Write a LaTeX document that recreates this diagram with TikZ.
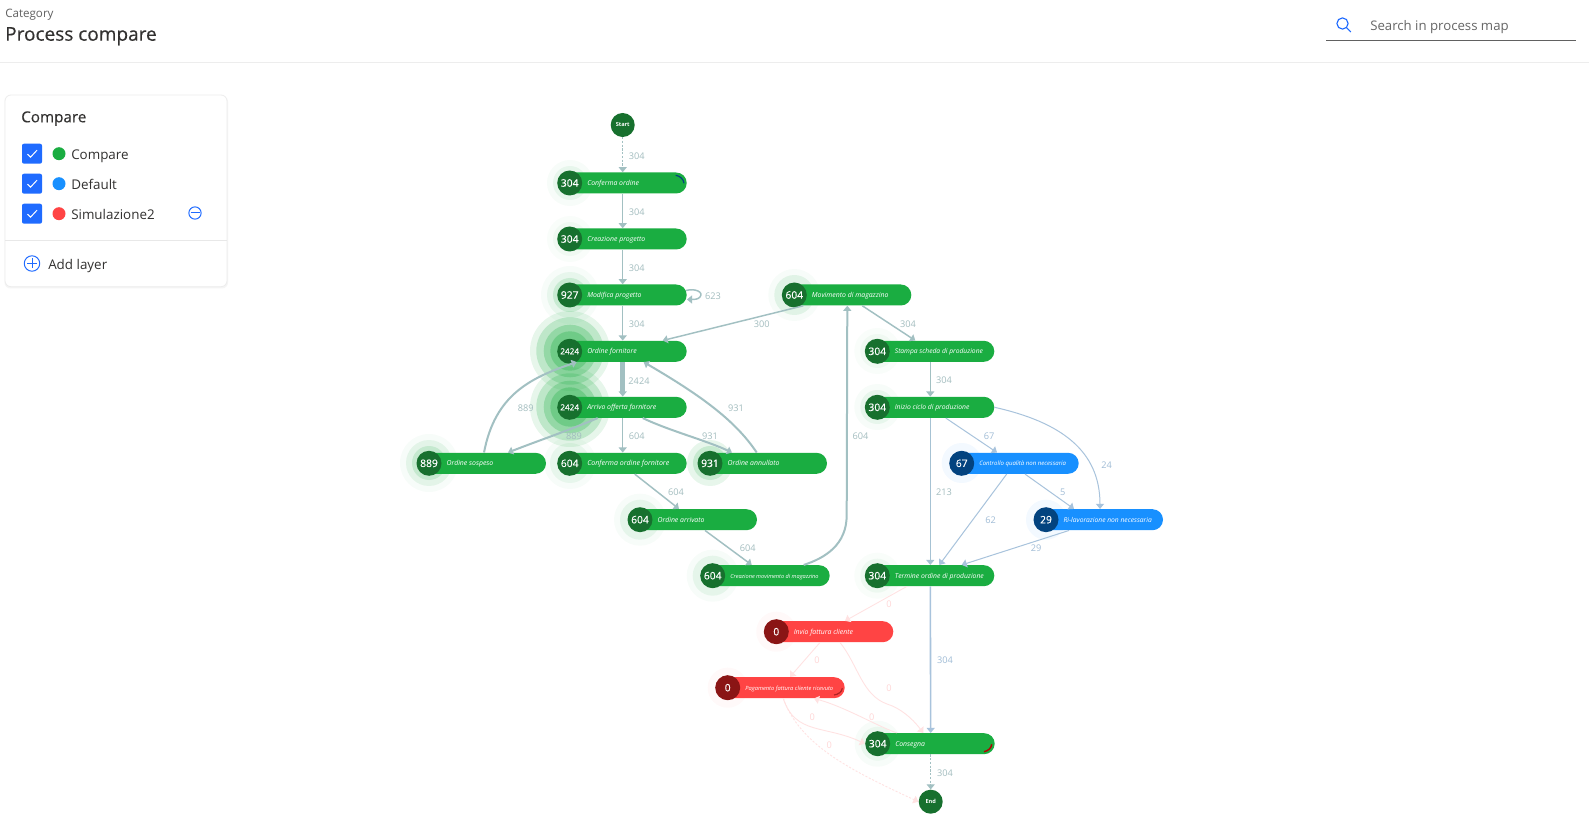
\documentclass[tikz,border=0pt]{standalone}
\usepackage{fontspec}
\setmainfont{Open Sans}
\newfontfamily\semifont[FakeBold=0.35]{Open Sans}
\usetikzlibrary{arrows.meta,calc,shapes.misc}
\definecolor{gpill}{HTML}{1AAD41}
\definecolor{gdark}{HTML}{17702E}
\definecolor{bpill}{HTML}{1890FF}
\definecolor{bdark}{HTML}{03437F}
\definecolor{rpill}{HTML}{FF4444}
\definecolor{rdark}{HTML}{8A1515}
\definecolor{tealedge}{HTML}{A2C0C2}
\definecolor{blueedge}{HTML}{A8C3DC}
\definecolor{pinkedge}{HTML}{FFE2E2}
\definecolor{teallab}{HTML}{A3BDBF}
\definecolor{bluelab}{HTML}{A0BCD6}
\definecolor{pinklab}{HTML}{FFD6D6}
\definecolor{uiblue}{HTML}{1F6BFF}
\definecolor{uitext}{HTML}{323130}
\newcommand\pxf[1]{\fontsize{\fpeval{#1*0.75}}{\fpeval{#1*0.9}}\selectfont}
\newcounter{elc}
\newcommand\elab[4][teallab]{\stepcounter{elc}\node[edgelabel,text=#1] (el\theelc) at ($(#2,#3)+(0,1)$) {#4};}
% name, cx, cy, count, text, text size, fill, dark
\newcommand\proc[8]{%
  \node[pill,fill=#7] (#1) at ($(#2,#3)+(53,0)$) {};
  \node[disc,fill=#8] (#1c) at (#2,#3) {\semifont\pxf{\ifnum#4>999 8.2\else 10.3\fi}#4};
  \node[plabel,font=\itshape\pxf{#6}] (#1t) at ($(#2,#3)+(17.3,2.5)$) {#5};
}
\tikzset{
  pill/.style={rounded rectangle,minimum width=96pt,minimum height=15.75pt,inner sep=0pt,draw=none},
  disc/.style={circle,minimum size=18.75pt,inner sep=0pt,text=white},
  endpoint/.style={circle,minimum size=18pt,inner sep=0pt,text=white,fill=gdark,font=\bfseries\pxf{5.6}},
  plabel/.style={anchor=base west,inner sep=0pt,text=white},
  edgelabel/.style={inner sep=0pt,font=\pxf{9.2}},
  tip/.style={-{Triangle[length=3.8pt,width=6pt]}},
  tedge/.style={tip,draw=tealedge,line width=1.1pt},
  tthin/.style={tip,draw=tealedge,line width=.8pt},
  tmid/.style={tip,draw=tealedge,line width=1.5pt},
  bedge/.style={tip,draw=blueedge,line width=.75pt},
  bthick/.style={tip,draw=blueedge,line width=1.2pt},
  pedge/.style={-{Triangle[length=3.8pt,width=6pt]},draw=pinkedge,line width=.65pt},
  dashline/.style={dash pattern=on 1.6pt off 1.2pt},
  chk/.style={rounded corners=1.5pt,fill=uiblue,draw=none},
  dot/.style={circle,minimum size=9.75pt,inner sep=0pt},
  uilabel/.style={anchor=base west,inner sep=0pt,text=uitext,font=\pxf{13.4}},
  uiicon/.style={draw=uiblue,line width=.75pt,fill=none},
}
\begin{document}
\begin{tikzpicture}[x=.75pt,y=-.75pt]
\useasboundingbox (0,0) rectangle (1589,827);
\fill[white] (0,0) rectangle (1589,827);

% ---- header
\node[anchor=base west,inner sep=0pt,text=black!62,font=\pxf{11.6}] (cat) at (5,17.3) {Category};
\node[anchor=base west,inner sep=0pt,text=uitext,font=\semifont\pxf{19}] (title) at (5,40.7) {Process compare};
\draw[black!7,line width=.8pt] (0,62.2) -- (1589,62.2);
\draw[uiblue,line width=.85pt] (1342.5,23.5) circle[radius=4.2pt];
\draw[uiblue,line width=.85pt] (1346.6,27.8) -- (1350.8,32);
\node[anchor=base west,inner sep=0pt,text=black!60,font=\pxf{13.2}] (search) at (1370,30.7) {Search in process map};
\draw[black!62,line width=.75pt] (1326,40.5) -- (1576,40.5);

% ---- legend panel
\fill[black!4,rounded corners=4.5pt] (4.5,96) rectangle (228,288.5);
\filldraw[draw=black!7,fill=white,line width=.6pt,rounded corners=4.5pt] (5,95) rectangle (227,286.7);
\draw[black!9,line width=.7pt] (5,240) -- (227,240);
\node[anchor=base west,inner sep=0pt,text=uitext,font=\semifont\pxf{15.2}] (lt) at (21,122.3) {Compare};
\foreach \yy/\cc/\lab/\nn in {153.7/gpill/Compare/a,183.7/bpill/Default/b,213.7/rpill/Simulazione2/c}{
  \fill[chk] (22,\yy-10) rectangle (42,\yy+10);
  \draw[white,line width=.75pt] (27.5,\yy+0.5) -- (30.5,\yy+3.5) -- (37,\yy-3.5);
  \node[dot,fill=\cc] (dot\nn) at (59,\yy) {};
  \node[uilabel] (txt\nn) at (71,\yy+5.6) {\lab};
}
\draw[uiicon] (195,213) circle[radius=4.6pt];
\draw[uiicon] (190.5,213) -- (199.5,213);
\draw[uiicon] (32,263.5) circle[radius=5.8pt];
\draw[uiicon] (27,263.5) -- (37,263.5) (32,258.5) -- (32,268.5);
\node[uilabel] (txtadd) at (48,269.3) {Add layer};

% ---- halos
\foreach \px/\py/\r/\o in {
  570/183/23/.03,570/183/17/.07,
  570/239/23/.025,570/239/17/.04,
  570/295/29/.03,570/295/23/.07,570/295/17/.15,
  570/351/40/.1,570/351/33.7/.2,570/351/26.3/.25,570/351/19.7/.3,
  570/407/40/.1,570/407/33.7/.2,570/407/26.3/.25,570/407/19.7/.3,
  429/463/29/.03,429/463/23/.09,429/463/17/.15,
  570/463/26/.03,570/463/20/.07,
  710/463/23/.1,710/463/17/.16,
  640/519.7/26/.03,640/519.7/20/.08,
  712.7/575.7/26/.03,712.7/575.7/20/.08,
  794.3/295/26/.03,794.3/295/20/.1,
  877.3/351/23/.025,877.3/351/17/.04,
  877.3/407/23/.03,877.3/407/17/.07,
  877.3/575.7/23/.025,877.3/575.7/17/.05,
  877.7/743.7/23/.03,877.7/743.7/17/.06}{
  \fill[gpill,opacity=\o] (\px,\py) circle[radius=\r*.75pt];
}
\foreach \px/\py/\r/\o in {961.7/463/20/.05,1046/519.7/20/.05}{
  \fill[bpill,opacity=\o] (\px,\py) circle[radius=\r*.75pt];
}
\foreach \px/\py/\r/\o in {776.3/631.7/20/.03,727.7/687.7/20/.03}{
  \fill[rpill,opacity=\o] (\px,\py) circle[radius=\r*.75pt];
}

% ---- nodes
\node[endpoint] (start) at (622.7,125) {Start};
\node[endpoint] (end) at (930.7,801.7) {End};
\proc{conf}{569.7}{183}{304}{Conferma ordine}{6.9}{gpill}{gdark}
\proc{crea}{569.7}{239}{304}{Creazione progetto}{6.9}{gpill}{gdark}
\proc{modp}{569.7}{295}{927}{Modifica progetto}{6.9}{gpill}{gdark}
\proc{ordf}{569.7}{351.3}{2424}{Ordine fornitore}{6.9}{gpill}{gdark}
\proc{arri}{569.7}{407.3}{2424}{Arrivo offerta fornitore}{6.9}{gpill}{gdark}
\proc{sosp}{429}{463.3}{889}{Ordine sospeso}{6.9}{gpill}{gdark}
\proc{cofo}{569.7}{463.3}{604}{Conferma ordine fornitore}{7.05}{gpill}{gdark}
\proc{annu}{710}{463.3}{931}{Ordine annullato}{6.9}{gpill}{gdark}
\proc{arrv}{640}{519.7}{604}{Ordine arrivato}{6.9}{gpill}{gdark}
\proc{crmo}{712.7}{575.7}{604}{Creazione movimento di magazzino}{5.6}{gpill}{gdark}
\proc{movi}{794.3}{295}{604}{Movimento di magazzino}{6.9}{gpill}{gdark}
\proc{stam}{877.3}{351.3}{304}{Stampa scheda di produzione}{6.7}{gpill}{gdark}
\proc{iniz}{877.3}{407.3}{304}{Inizio ciclo di produzione}{6.8}{gpill}{gdark}
\proc{cont}{961.7}{463.3}{67}{Controllo qualità non necessaria}{6.05}{bpill}{bdark}
\proc{rila}{1046}{519.7}{29}{Ri-lavorazione non necessaria}{6.7}{bpill}{bdark}
\proc{term}{877.3}{575.7}{304}{Termine ordine di produzione}{6.8}{gpill}{gdark}
\proc{invi}{776.3}{631.7}{0}{Invio fattura cliente}{6.9}{rpill}{rdark}
\proc{paga}{727.7}{687.7}{0}{Pagamento fattura cliente ricevuto}{5.75}{rpill}{rdark}
\proc{cons}{877.7}{743.7}{304}{Consegna}{6.9}{gpill}{gdark}

% ---- progress arcs on pills
\draw[bdark,line width=.9pt] (675.7,175.3) .. controls (680,176) and (683.5,179) .. (684,183.3);
\draw[rdark!70!rpill,line width=.9pt] (834,695) .. controls (838,694.5) and (842,692) .. (842.3,688.3);
\draw[red!70!black,line width=1.1pt] (984,751.7) .. controls (988,751) and (991.5,748) .. (991.7,744.3);

% ---- connectors, teal
\draw[tthin,dashline] (start) -- (conf.north);
\draw[tedge] (conf.south) -- (crea.north);
\draw[tedge] (crea.south) -- (modp.north);
\draw[tedge] (modp.south) -- (ordf.north);
\draw[tedge] ($(modp.east)+(-1,-4.5)$) .. controls (695,288) and (704,292) .. (700,297) .. controls (698,299.5) and (694,299.5) .. ($(modp.east)+(0,4.5)$);
\draw[tedge] ($(movi.south)+(-44,0)$) -- ($(ordf.north)+(40,0)$);
\draw[tedge] ($(movi.south)+(15,0)$) -- ($(stam.north)+(-15,0)$);
\draw[tedge] (stam.south) -- (iniz.north);
\draw[tip,draw=tealedge,line width=3.6pt] (ordf.south) -- (arri.north);
\draw[tmid] ($(sosp.north)+(2,0)$) .. controls (495,395) and (530,378) .. ($(ordf.south)+(-46,0)$);
\draw[tmid] ($(annu.north)+(-6.3,0)$) .. controls (735,420) and (700,395) .. ($(ordf.south)+(21,0)$);
\draw[tmid] ($(arri.south)+(20,0)$) .. controls (670,431) and (705,440) .. ($(annu.north)+(-31,0)$);
\draw[tmid] ($(arri.south)+(-25,0)$) .. controls (570,430) and (540,440) .. ($(sosp.north)+(26,0)$);
\draw[tedge] (arri.south) -- (cofo.north);
\draw[tedge] ($(cofo.south)+(12,0)$) -- ($(arrv.north)+(-14,0)$);
\draw[tedge] ($(arrv.south)+(12,0)$) -- ($(crmo.north)+(-14,0)$);
\draw[tmid] ($(crmo.north)+(38,0)$) .. controls (825,558) and (846.7,545) .. (846.7,515) -- (movi.south);
\draw[tthin,dashline] (cons.south) -- (end.north);

% ---- connectors, blue
\draw[tip,draw=blueedge!65!tealedge,line width=1.1pt] (iniz.south) -- (term.north);
\draw[bedge] ($(iniz.south)+(15.5,0)$) -- ($(cont.north)+(-17.7,0)$);
\draw[bedge] (iniz.east) .. controls (1060,422) and (1100,450) .. ($(rila.north)+(1,0)$);
\draw[bedge] ($(cont.south)+(10.3,0)$) -- ($(rila.north)+(-25,0)$);
\draw[bedge] ($(cont.south)+(-8,0)$) -- ($(term.north)+(9,0)$);
\draw[bedge] ($(rila.south)+(-30,0)$) -- ($(term.north)+(31.4,0)$);
\draw[bthick] (term.south) -- (cons.north);

% ---- connectors, pink
\draw[pedge] ($(term.south)+(-23.5,0)$) -- ($(invi.north)+(15.7,0)$);
\draw[pedge] ($(invi.south)+(-9.3,0)$) -- ($(paga.north)+(9.3,0)$);
\draw[pedge] ($(invi.south)+(10.7,0)$) .. controls (858,665) and (862,695) .. (887,704) .. controls (900,708) and (912,718) .. ($(cons.north)+(-7.4,0)$);
\draw[pedge] ($(cons.north)+(-34,0)$) .. controls (875,725) and (845,707) .. ($(paga.south)+(33.3,0)$);
\draw[pedge] ($(paga.south)+(2.6,0)$) .. controls (795,735) and (825,725) .. (consc.west);
\draw[pedge,dashline] ($(paga.south)+(2.6,0)$) .. controls (800,745) and (850,770) .. (end.west);

% ---- connector labels
\elab{636.7}{155.7}{304}
\elab{636.7}{211.7}{304}
\elab{636.7}{267.7}{304}
\elab{636.7}{323.7}{304}
\elab{713}{295.7}{623}
\elab{761.7}{323.7}{300}
\elab{908}{323.7}{304}
\elab{944}{379.7}{304}
\elab{639}{379.7}{2424}
\elab{525.7}{407.7}{889}
\elab{736}{407.7}{931}
\elab{574}{435.7}{889}
\elab{636.7}{435.7}{604}
\elab{710}{435.7}{931}
\elab{860.4}{435.7}{604}
\elab{676}{491.7}{604}
\elab{747.7}{547.7}{604}
\elab{944}{491.7}{213}
\elab[bluelab]{989}{435.7}{67}
\elab[bluelab]{1106.7}{463.7}{24}
\elab[bluelab]{1062.7}{491.7}{5}
\elab[bluelab]{990.7}{519.5}{62}
\elab[bluelab]{1036}{547.7}{29}
\elab[bluelab]{945}{659.7}{304}
\elab[pinklab]{889}{603.5}{0}
\elab[pinklab]{817}{659.7}{0}
\elab[pinklab]{889}{687.5}{0}
\elab[pinklab]{871.7}{716.7}{0}
\elab[pinklab]{812.3}{716.7}{0}
\elab[pinklab]{829.3}{744.5}{0}
\elab{945}{772.7}{304}
\end{tikzpicture}
\end{document}
